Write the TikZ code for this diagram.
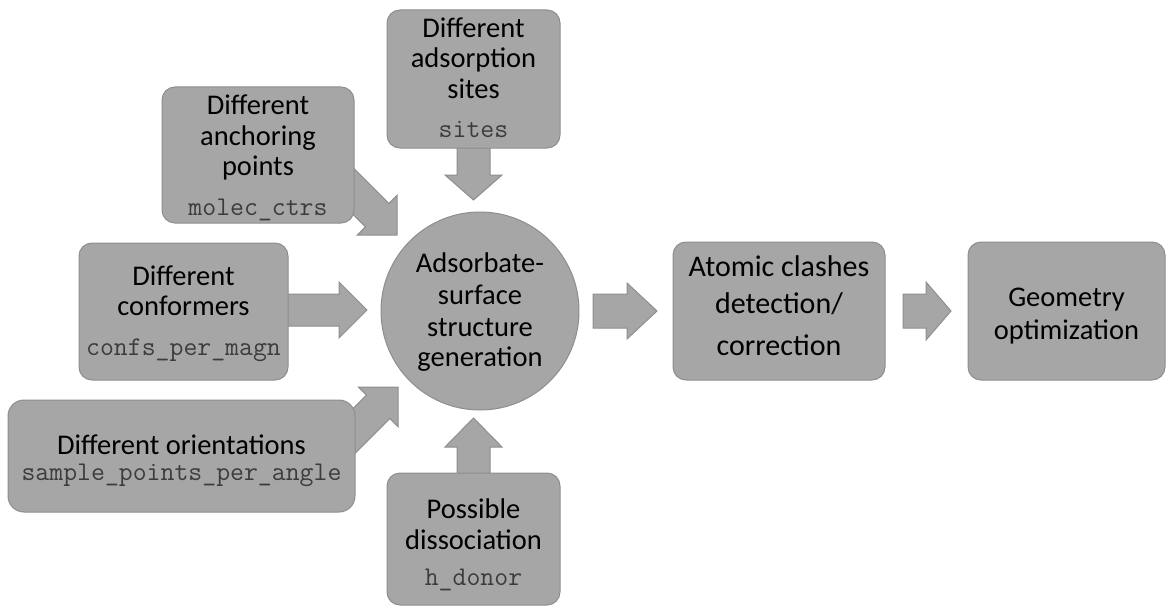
\documentclass[tikz,border=0pt]{standalone}
\usepackage{fontspec}
\setmainfont{Carlito}
\usetikzlibrary{calc}
\definecolor{boxfill}{HTML}{A6A6A6}
\definecolor{boxline}{HTML}{8E8E8E}
\definecolor{monocol}{HTML}{3C3C3C}
\tikzset{
  box/.style={draw=boxline, fill=boxfill, line width=1pt, rounded corners=13pt},
  roundbox/.style={draw=boxline, fill=boxfill, line width=1pt, circle},
  lbl/.style={font=\fontsize{28.5}{30}\selectfont, inner sep=0pt, anchor=base, text=black},
  biglbl/.style={lbl, font=\fontsize{30}{32}\selectfont},
  code/.style={font=\ttfamily\fontsize{27}{28}\selectfont, inner sep=0pt, anchor=base, text=monocol},
  barrow/.style={draw=boxline, fill=boxfill, line width=1pt, line join=miter},
}
% tail, tip, shaft half width, head half width, head length
\newcommand\blockarr[5]{%
  \coordinate (hb) at ($(#2)!#5pt!(#1)$);
  \draw[barrow] ($(#1)!#3pt!90:(hb)$) -- ($(hb)!#3pt!-90:(#1)$) -- ($(hb)!#4pt!-90:(#1)$) -- (#2)
     -- ($(hb)!#4pt!90:(#1)$) -- ($(hb)!#3pt!90:(#1)$) -- ($(#1)!#3pt!-90:(hb)$) -- cycle;}
\begin{document}
\begin{tikzpicture}[x=1pt,y=-1pt]
\fill[white] (0,0) rectangle (1171,610);
\useasboundingbox (0,0) rectangle (1171,610);

% arrow end points
\coordinate (sitesT) at (473.5,140);  \coordinate (sitesH) at (473.5,200);
\coordinate (anchT)  at (330,168);    \coordinate (anchH)  at (397,235);
\coordinate (confT)  at (280,310);    \coordinate (confH)  at (367,310);
\coordinate (oriT)   at (335,450);    \coordinate (oriH)   at (398,387);
\coordinate (dissT)  at (473.5,482);  \coordinate (dissH)  at (473.5,418);
\coordinate (genT)   at (593,311);    \coordinate (genH)   at (657,311);
\coordinate (atomT)  at (903,311);    \coordinate (atomH)  at (951,311);

\blockarr{sitesT}{sitesH}{16.5}{28.5}{25}
\blockarr{anchT}{anchH}{16.5}{28}{28}
\blockarr{confT}{confH}{16}{28}{28}
\blockarr{oriT}{oriH}{16.5}{28}{28}
\blockarr{dissT}{dissH}{16.5}{28.5}{29}
\blockarr{genT}{genH}{17}{28}{30}
\blockarr{atomT}{atomH}{17}{29}{25}

% boxes
\node[box, minimum width=173pt, minimum height=138pt] (sites) at (473.5,79) {};
\node[box, minimum width=192pt, minimum height=136pt] (anch) at (258,155) {};
\node[box, minimum width=209pt, minimum height=137pt] (conf) at (183.5,311.5) {};
\node[box, rounded corners=16pt, minimum width=347pt, minimum height=112pt] (ori) at (181.5,456) {};
\node[box, minimum width=173pt, minimum height=132pt] (diss) at (473.5,539) {};
\node[roundbox, minimum size=198pt] (gen) at (480,311) {};
\node[box, minimum width=212pt, minimum height=138pt] (atom) at (779,311) {};
\node[box, minimum width=197pt, minimum height=138pt] (geom) at (1066.5,311) {};

% texts
\node[lbl] (s1) at (473.5,38) {Different};
\node[lbl] (s2) at (473.5,68) {adsorption};
\node[lbl] (s3) at (473.5,99) {sites};
\node[code] (s4) at (473.5,138) {sites};

\node[lbl] (a1) at (258,114) {Different};
\node[lbl] (a2) at (258,146) {anchoring};
\node[lbl] (a3) at (258,175) {points};
\node[code] (a4) at (258,215) {molec\_ctrs};

\node[lbl] (c1) at (183.5,285) {Different};
\node[lbl] (c2) at (183.5,315) {conformers};
\node[code] (c3) at (183.5,355) {confs\_per\_magn};

\node[lbl] (o1) at (181.5,454) {Different orientations};
\node[code] (o2) at (181.5,480) {sample\_points\_per\_angle};

\node[lbl] (d1) at (473.5,518) {Possible};
\node[lbl] (d2) at (473.5,549) {dissociation};
\node[code] (d3) at (473.5,585) {h\_donor};

\node[lbl] (g1) at (480,272) {Adsorbate-};
\node[lbl] (g2) at (480,304) {surface};
\node[lbl] (g3) at (480,336) {structure};
\node[lbl] (g4) at (480,366) {generation};

\node[biglbl] (t1) at (779,276) {Atomic clashes};
\node[biglbl] (t2) at (779,313) {detection/};
\node[biglbl] (t3) at (779,355) {correction};

\node[lbl] (e1) at (1066.5,306) {Geometry};
\node[lbl] (e2) at (1066.5,339) {optimization};
\end{tikzpicture}
\end{document}
